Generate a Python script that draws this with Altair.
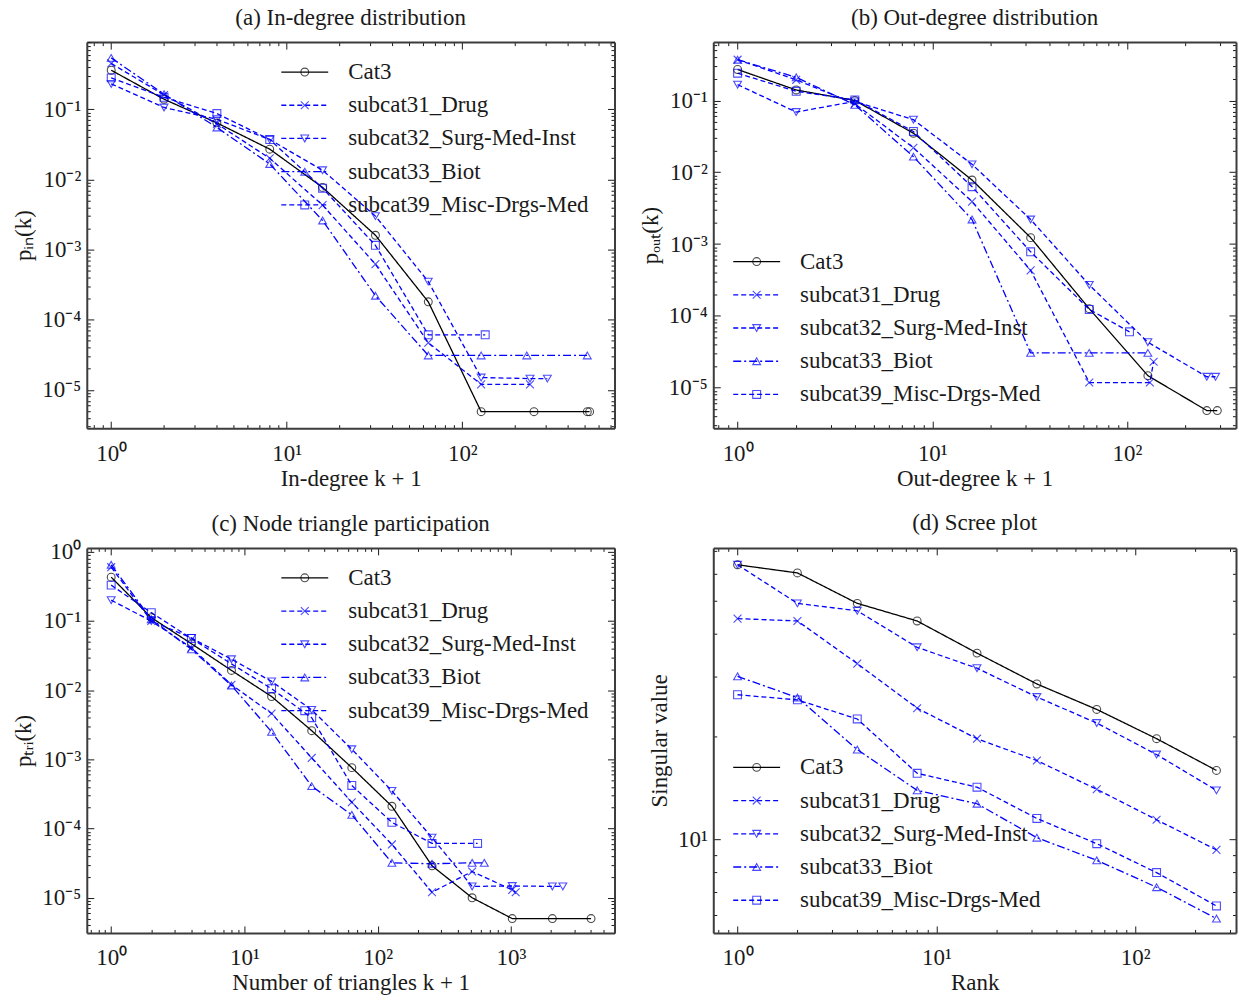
import altair as alt
import pandas as pd

FONT = "Liberation Serif"
INK = "#1a1a1a"
BLUE = "#0000ff"
TEXT_SIZE = 23

SERIES = ["Cat3", "subcat31_Drug", "subcat32_Surg-Med-Inst", "subcat33_Biot", "subcat39_Misc-Drgs-Med"]
SERIES_COLORS = ["#000000", BLUE, BLUE, BLUE, BLUE]
SERIES_DASHES = [[1, 0], [5, 3], [5, 3], [8, 3, 2, 3], [5, 3]]
CROSS_PATH = "M-1,-1L1,1M-1,1L1,-1"
SERIES_SHAPES = ["circle", CROSS_PATH, "triangle-down", "triangle-up", "square"]

# (a) in-degree distribution
in_cat3_x = [1, 2, 4, 8, 16, 32, 64, 128, 256, 515, 531]
in_cat3_y = [0.36, 0.139, 0.064, 0.027, 0.0077, 0.0016, 1.8e-4, 4.9e-6, 4.9e-6, 4.9e-6, 4.9e-6]
in_drug_x = [1, 2, 4, 8, 16, 32, 64, 128, 243]
in_drug_y = [0.45, 0.16, 0.062, 0.020, 0.0043, 6.2e-4, 4.7e-5, 1.2e-5, 1.2e-5]
in_surg_x = [1, 2, 4, 8, 16, 32, 64, 128, 243, 305]
in_surg_y = [0.23, 0.106, 0.072, 0.037, 0.0135, 0.0030, 3.5e-4, 1.5e-5, 1.45e-5, 1.45e-5]
in_biot_x = [1, 2, 4, 8, 16, 32, 64, 128, 233, 515]
in_biot_y = [0.54, 0.164, 0.055, 0.0166, 0.0026, 2.2e-4, 3.1e-5, 3.1e-5, 3.1e-5, 3.1e-5]
in_misc_x = [1, 2, 4, 8, 16, 32, 64, 135]
in_misc_y = [0.28, 0.148, 0.087, 0.037, 0.0075, 0.00115, 6.1e-5, 6.1e-5]

# (b) out-degree distribution
out_cat3_x = [1, 2, 4, 8, 16, 32, 64, 128, 257, 291]
out_cat3_y = [0.27, 0.14, 0.10, 0.035, 0.0078, 0.00123, 1.26e-4, 1.47e-5, 4.8e-6, 4.8e-6]
out_drug_x = [1, 2, 4, 8, 16, 32, 64, 131, 137]
out_drug_y = [0.37, 0.194, 0.09, 0.022, 0.0039, 4.3e-4, 1.18e-5, 1.18e-5, 2.3e-5]
out_surg_x = [1, 2, 4, 8, 16, 32, 64, 128, 257, 285]
out_surg_y = [0.166, 0.069, 0.097, 0.054, 0.0129, 0.0022, 2.7e-4, 4.3e-5, 1.42e-5, 1.42e-5]
out_biot_x = [1, 2, 4, 8, 16, 32, 64, 128]
out_biot_y = [0.37, 0.21, 0.087, 0.0165, 0.0022, 3.05e-5, 3.05e-5, 3.05e-5]
out_misc_x = [1, 2, 4, 8, 16, 32, 64, 103]
out_misc_y = [0.24, 0.134, 0.102, 0.037, 0.0063, 7.8e-4, 1.23e-4, 6.0e-5]

# (c) node triangle participation
tri_cat3_x = [1, 2, 4, 8, 16, 32, 64, 128, 256, 512, 1024, 2050, 4000]
tri_cat3_y = [0.43, 0.112, 0.047, 0.0193, 0.0081, 0.0026, 7.6e-4, 2.1e-4, 2.9e-5, 1.0e-5, 5.0e-6, 5.0e-6, 5.0e-6]
tri_drug_x = [1, 2, 4, 8, 16, 32, 64, 128, 256, 512, 1024, 1087]
tri_drug_y = [0.6, 0.1, 0.041, 0.012, 0.0046, 0.00105, 2.4e-4, 5.9e-5, 1.2e-5, 2.4e-5, 1.3e-5, 1.2e-5]
tri_surg_x = [1, 2, 4, 8, 16, 32, 64, 128, 256, 512, 1024, 2048, 2455]
tri_surg_y = [0.2, 0.1, 0.057, 0.028, 0.0134, 0.0052, 0.0014, 3.5e-4, 7.4e-5, 1.46e-5, 1.48e-5, 1.46e-5, 1.46e-5]
tri_biot_x = [1, 2, 4, 8, 16, 32, 64, 128, 256, 512, 632]
tri_biot_y = [0.65, 0.106, 0.039, 0.0117, 0.0025, 4.1e-4, 1.58e-4, 3.2e-5, 3.1e-5, 3.2e-5, 3.2e-5]
tri_misc_x = [1, 2, 4, 8, 16, 32, 64, 128, 256, 563]
tri_misc_y = [0.33, 0.132, 0.056, 0.024, 0.0105, 0.004, 4.2e-4, 1.23e-4, 6.1e-5, 6.1e-5]

# (d) scree plot
scree_rank = [1, 2, 4, 8, 16, 32, 64, 128, 256]
scree_cat3 = [63.7, 60.3, 49.1, 43.6, 35.1, 28.5, 24.0, 19.7, 15.9]
scree_drug = [44.3, 43.6, 32.7, 24.2, 19.7, 17.0, 14.0, 11.4, 9.3]
scree_surg = [63.7, 49.1, 46.7, 36.5, 31.7, 26.1, 21.9, 17.7, 13.9]
scree_biot = [30.0, 26.0, 18.3, 13.9, 12.7, 10.1, 8.67, 7.23, 5.85]
scree_misc = [26.5, 25.6, 22.5, 15.6, 14.2, 11.5, 9.7, 7.98, 6.37]

# Powers of ten get long ticks and a label; the other multiples get short, unlabelled ticks.
LOG10 = "(log(datum.value) / LN10)"
IS_DECADE = f"abs({LOG10} - round({LOG10})) < 1e-6"
TICK_LEN_EXPR = f"{IS_DECADE} ? -7 : -3.5"
LABEL_SIZE_EXPR = f"{IS_DECADE} ? {TEXT_SIZE} : 0"
LABEL_EXPR = (
    f"{IS_DECADE} ? '10' + (round({LOG10}) < 0 ? '\u207b' : '') + "
    f"['\u2070','\u00b9','\u00b2','\u00b3','\u2074','\u2075','\u2076','\u2077','\u2078','\u2079'][abs(round({LOG10}))] : ''"
)


def log_ticks(lo, hi):
    import math
    vals = []
    for d in range(math.floor(math.log10(lo)), math.ceil(math.log10(hi)) + 1):
        for m in range(1, 10):
            v = float(f"{m}e{d}")
            if lo <= v <= hi:
                vals.append(v)
    return vals


def long_frame(pairs):
    rows = []
    for name, xs, ys in pairs:
        for i, (x, y) in enumerate(zip(xs, ys)):
            rows.append({"series": name, "i": i, "x": x, "y": y})
    return pd.DataFrame(rows)


def edge_axis(orient, values, title=None, labels=True):
    horizontal = orient in ("bottom", "top")
    kw = dict(
        orient=orient, values=values, grid=False, ticks=True,
        tickSize={"expr": TICK_LEN_EXPR}, tickColor=INK, tickWidth=1,
        domainColor="#3c3c3c", domainWidth=2,
        labels=labels, labelOverlap=False, labelFlush=False,
        title=title,
    )
    if labels:
        kw.update(labelExpr=LABEL_EXPR, labelFont=FONT, labelFontSize={"expr": LABEL_SIZE_EXPR},
                  labelColor=INK, labelPadding=21 if horizontal else 13)
    if title:
        kw.update(titleFont=FONT, titleFontSize=TEXT_SIZE, titleFontWeight="normal",
                  titleColor=INK, titlePadding=2 if horizontal else 6)
    return alt.Axis(**kw)


def panel(df, xdom, ydom, title, xtitle, ytitle, legend_box, width, height, title_offset):
    xvals = log_ticks(*xdom)
    yvals = log_ticks(*ydom)
    xs = alt.Scale(type="log", domain=xdom, nice=False)
    ys = alt.Scale(type="log", domain=ydom, nice=False)
    color = alt.Color("series:N", scale=alt.Scale(domain=SERIES, range=SERIES_COLORS), legend=None)
    dash = alt.StrokeDash("series:N", scale=alt.Scale(domain=SERIES, range=SERIES_DASHES), legend=None)
    shape = alt.Shape("series:N", scale=alt.Scale(domain=SERIES, range=SERIES_SHAPES), legend=None)

    base = alt.Chart(df)
    lines = base.mark_line(strokeWidth=1.3).encode(
        x=alt.X("x:Q", scale=xs, axis=edge_axis("bottom", xvals, xtitle)),
        y=alt.Y("y:Q", scale=ys, axis=edge_axis("left", yvals, ytitle)),
        color=color, strokeDash=dash, detail="series:N", order="i:Q",
    )
    points = base.mark_point(filled=False, size=62, strokeWidth=1.1).encode(
        x=alt.X("x:Q", scale=xs, axis=None),
        y=alt.Y("y:Q", scale=ys, axis=None),
        color=color, shape=shape,
    )
    mirror = base.mark_point(opacity=0).encode(
        x=alt.X("x:Q", scale=xs, axis=edge_axis("top", xvals, labels=False)),
        y=alt.Y("y:Q", scale=ys, axis=edge_axis("right", yvals, labels=False)),
    )

    lx0, lx1, lxt, ly0, step = legend_box
    leg = pd.DataFrame({"series": SERIES, "row": list(range(len(SERIES)))})
    ly = alt.Y("row:Q", scale=alt.Scale(domain=[0, len(SERIES) - 1],
                                        range=[ly0, ly0 + step * (len(SERIES) - 1)]), axis=None)
    leg_line = alt.Chart(leg).mark_rule(strokeWidth=1.3).encode(
        x=alt.value(lx0), x2=alt.value(lx1), y=ly, color=color, strokeDash=dash)
    leg_mark = alt.Chart(leg).mark_point(filled=False, size=62, strokeWidth=1.1).encode(
        x=alt.value((lx0 + lx1) / 2), y=ly, color=color, shape=shape)
    leg_text = alt.Chart(leg).mark_text(align="left", baseline="middle", font=FONT,
                                        fontSize=TEXT_SIZE, color=INK).encode(
        x=alt.value(lxt), y=ly, text="series:N")

    return alt.layer(lines, points, mirror, leg_line, leg_mark, leg_text).resolve_scale(
        y="independent"
    ).resolve_axis(x="independent", y="independent").properties(
        width=width, height=height,
        title=alt.TitleParams(title, font=FONT, fontSize=TEXT_SIZE, fontWeight="normal",
                              color=INK, offset=title_offset),
    )


in_df = long_frame([
    (SERIES[0], in_cat3_x, in_cat3_y), (SERIES[1], in_drug_x, in_drug_y),
    (SERIES[2], in_surg_x, in_surg_y), (SERIES[3], in_biot_x, in_biot_y),
    (SERIES[4], in_misc_x, in_misc_y),
])
out_df = long_frame([
    (SERIES[0], out_cat3_x, out_cat3_y), (SERIES[1], out_drug_x, out_drug_y),
    (SERIES[2], out_surg_x, out_surg_y), (SERIES[3], out_biot_x, out_biot_y),
    (SERIES[4], out_misc_x, out_misc_y),
])
tri_df = long_frame([
    (SERIES[0], tri_cat3_x, tri_cat3_y), (SERIES[1], tri_drug_x, tri_drug_y),
    (SERIES[2], tri_surg_x, tri_surg_y), (SERIES[3], tri_biot_x, tri_biot_y),
    (SERIES[4], tri_misc_x, tri_misc_y),
])
scree_df = long_frame([
    (SERIES[0], scree_rank, scree_cat3), (SERIES[1], scree_rank, scree_drug),
    (SERIES[2], scree_rank, scree_surg), (SERIES[3], scree_rank, scree_biot),
    (SERIES[4], scree_rank, scree_misc),
])

LEGEND_TOP = (195, 242, 262, 30, 33.3)
LEGEND_LOW = (20, 67, 87, 220, 33.3)

pa = panel(in_df, [0.726, 736], [2.85e-6, 0.906], "(a) In-degree distribution",
           "In-degree k + 1", "p\u1d62\u2099(k)", LEGEND_TOP, 529, 387, 12)
pb = panel(out_df, [0.75, 363], [2.73e-6, 0.65], "(b) Out-degree distribution",
           "Out-degree k + 1", "p\u2092\u1d64\u209c(k)", LEGEND_LOW, 524, 387, 12)
pc = panel(tri_df, [0.656, 6000], [3.1e-6, 1.14], "(c) Node triangle participation",
           "Number of triangles k + 1", "p\u209c\u1d63\u1d62(k)", LEGEND_TOP, 529, 386, 5)
pd_ = panel(scree_df, [0.755, 321], [5.31, 71.4], "(d) Scree plot",
            "Rank", "Singular value", LEGEND_LOW, 524, 386, 12)

chart = alt.concat(pa, pb, pc, pd_, columns=2, spacing={"row": 21, "column": 23}).properties(
    padding={"left": 12, "top": 5, "right": 2, "bottom": 2}
).configure_view(stroke=None).configure(background="white")

chart.save("out.html", embed_options={"renderer": "svg", "actions": False})
